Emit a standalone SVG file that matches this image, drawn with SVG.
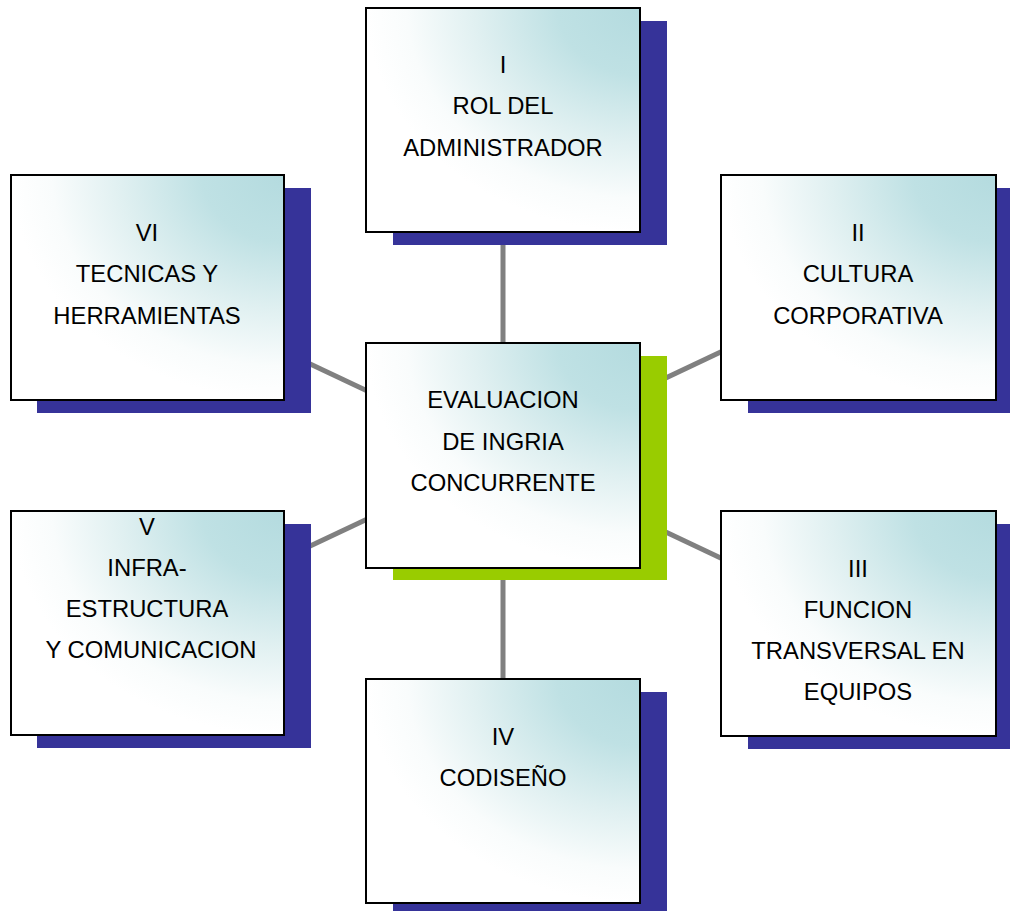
<svg xmlns="http://www.w3.org/2000/svg" width="1010" height="911" viewBox="0 0 1010 911">
  <defs>
    <radialGradient id="boxFill" cx="1" cy="0" r="1.0" fx="1" fy="0">
      <stop offset="0" stop-color="#b4dbdf"/>
      <stop offset="0.3" stop-color="#bfe1e4"/>
      <stop offset="0.6" stop-color="#e0f0f1"/>
      <stop offset="0.85" stop-color="#f9fcfc"/>
      <stop offset="1" stop-color="#ffffff"/>
    </radialGradient>
    <style>
      .shadow { fill: #363399; }
      .shadow-hub { fill: #99cc00; }
      .box { fill: url(#boxFill); stroke: #000; stroke-width: 2; }
      .link { stroke: #808080; stroke-width: 5; fill: none; }
      text { font-family: "Liberation Sans", Arial, sans-serif; font-size: 23.8px; fill: #000; text-anchor: middle; }
    </style>
  </defs>
  <rect width="1010" height="911" fill="#ffffff"/>

  <!-- connectors: hub centre to each satellite centre -->
  <g id="connectors">
    <line class="link" x1="503" y1="455" x2="503" y2="120"/>
    <line class="link" x1="503" y1="455" x2="858" y2="287"/>
    <line class="link" x1="503" y1="455" x2="858" y2="623"/>
    <line class="link" x1="503" y1="455" x2="503" y2="791"/>
    <line class="link" x1="503" y1="455" x2="147" y2="623"/>
    <line class="link" x1="503" y1="455" x2="147" y2="287"/>
  </g>

  <g id="node-i">
    <rect class="shadow" x="393" y="21" width="274" height="224"/>
    <rect class="box" x="366" y="8" width="274" height="224"/>
    <text x="503" y="73">I</text>
    <text x="503" y="114">ROL DEL</text>
    <text x="503" y="156">ADMINISTRADOR</text>
  </g>

  <g id="node-ii">
    <rect class="shadow" x="748" y="188" width="274" height="225"/>
    <rect class="box" x="721" y="175" width="275" height="225"/>
    <text x="858" y="241">II</text>
    <text x="858" y="282">CULTURA</text>
    <text x="858" y="324">CORPORATIVA</text>
  </g>

  <g id="node-iii">
    <rect class="shadow" x="748" y="524" width="274" height="225"/>
    <rect class="box" x="721" y="511" width="275" height="225"/>
    <text x="858" y="577">III</text>
    <text x="858" y="618">FUNCION</text>
    <text x="858" y="659">TRANSVERSAL EN</text>
    <text x="858" y="700">EQUIPOS</text>
  </g>

  <g id="node-iv">
    <rect class="shadow" x="393" y="692" width="274" height="224"/>
    <rect class="box" x="366" y="679" width="274" height="224"/>
    <text x="503" y="745">IV</text>
    <text x="503" y="786">CODISEÑO</text>
  </g>

  <g id="node-v">
    <rect class="shadow" x="37" y="524" width="274" height="224"/>
    <rect class="box" x="11" y="511" width="273" height="224"/>
    <text x="147" y="535">V</text>
    <text x="147" y="576">INFRA-</text>
    <text x="147" y="617">ESTRUCTURA</text>
    <text x="151" y="658">Y COMUNICACION</text>
  </g>

  <g id="node-vi">
    <rect class="shadow" x="37" y="188" width="274" height="225"/>
    <rect class="box" x="11" y="175" width="273" height="225"/>
    <text x="147" y="241">VI</text>
    <text x="147" y="282">TECNICAS Y</text>
    <text x="147" y="324">HERRAMIENTAS</text>
  </g>

  <g id="node-hub">
    <rect class="shadow-hub" x="393" y="356" width="274" height="224"/>
    <rect class="box" x="366" y="343" width="274" height="225"/>
    <text x="503" y="408">EVALUACION</text>
    <text x="503" y="450">DE INGRIA</text>
    <text x="503" y="491">CONCURRENTE</text>
  </g>
</svg>
